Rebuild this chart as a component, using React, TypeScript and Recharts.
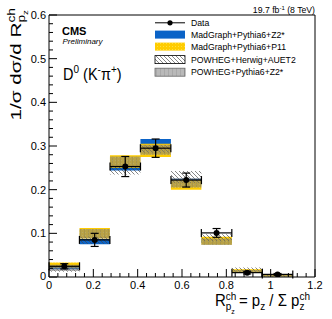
import React from 'react';
import { ComposedChart, Area, Scatter, ErrorBar, XAxis, YAxis, ReferenceArea } from 'recharts';

// bin edges of the R_pz histogram
const binEdges = [0, 0.1375, 0.275, 0.4125, 0.55, 0.6875, 0.825, 0.9625, 1.1];

// data points
const dataCenters = [0.069, 0.206, 0.344, 0.481, 0.619, 0.756, 0.894, 1.031];
const dataValues = [0.0245, 0.085, 0.253, 0.295, 0.222, 0.101, 0.01, 0.006];
const dataErrors = [0.006, 0.015, 0.023, 0.021, 0.016, 0.01, 0.003, 0.002];

// MC bands (low / high per bin)
const mgZ2Low = [0.018, 0.075, 0.244, 0.298, 0.21, 0.078, 0.011, 0.002];
const mgZ2High = [0.026, 0.087, 0.256, 0.316, 0.225, 0.088, 0.016, 0.005];
const mgP11Low = [0.022, 0.088, 0.25, 0.275, 0.2, 0.074, 0.01, 0.001];
const mgP11High = [0.033, 0.112, 0.279, 0.305, 0.222, 0.092, 0.018, 0.006];
const phHwLow = [0.012, 0.076, 0.235, 0.285, 0.215, 0.082, 0.012, 0.001];
const phHwHigh = [0.025, 0.092, 0.255, 0.302, 0.243, 0.098, 0.022, 0.005];
const phPyLow = [0.014, 0.088, 0.252, 0.28, 0.205, 0.073, 0.011, 0.001];
const phPyHigh = [0.028, 0.11, 0.276, 0.303, 0.226, 0.088, 0.016, 0.006];

// axis ticks
const xMajorTicks = [0, 0.2, 0.4, 0.6, 0.8, 1, 1.2];
const xTickLabels = ['0', '0.2', '0.4', '0.6', '0.8', '1', '1.2'];
const yMajorTicks = [0, 0.1, 0.2, 0.3, 0.4, 0.5, 0.6];
const yTickLabels = ['0', '0.1', '0.2', '0.3', '0.4', '0.5', '0.6'];
const xAllTicks = Array.from({ length: 31 }, (_, i) => Math.round(i * 4) / 100);
const yAllTicks = Array.from({ length: 31 }, (_, i) => Math.round(i * 2) / 100);

const legendNames = [
  'Data',
  'MadGraph+Pythia6+Z2*',
  'MadGraph+Pythia6+P11',
  'POWHEG+Herwig+AUET2',
  'POWHEG+Pythia6+Z2*',
];

// step-area rows at the bin edges; last edge repeats the last bin
const bandRows = binEdges.map((x, i) => {
  const j = Math.min(i, mgZ2Low.length - 1);
  return {
    x,
    mgZ2: [mgZ2Low[j], mgZ2High[j]],
    mgP11: [mgP11Low[j], mgP11High[j]],
    phHw: [phHwLow[j], phHwHigh[j]],
    phPy: [phPyLow[j], phPyHigh[j]],
  };
});

const pointRows = dataCenters.map((x, i) => ({
  x,
  y: dataValues[i],
  ey: dataErrors[i],
  ex: (binEdges[i + 1] - binEdges[i]) / 2,
}));

const FONT = '"Liberation Sans", Arial, Helvetica, sans-serif';

const findIdx = (list: number[], v: number) => list.findIndex((t) => Math.abs(t - v) < 1e-6);

const XTick = (props: any) => {
  const { x, y, payload } = props;
  const idx = findIdx(xMajorTicks, payload.value);
  const base = y - 3;
  return (
    <g>
      <line x1={x} x2={x} y1={base} y2={base - (idx >= 0 ? 8 : 4)} stroke="#000" strokeWidth={1} />
      {idx >= 0 && (
        <text x={x} y={y + 1} dy="0.71em" textAnchor="middle" fontSize={11} fontFamily={FONT} fill="#000">
          {xTickLabels[idx]}
        </text>
      )}
    </g>
  );
};

const YTick = (props: any) => {
  const { x, y, payload } = props;
  const idx = findIdx(yMajorTicks, payload.value);
  const base = x + 3;
  return (
    <g>
      <line x1={base} x2={base + (idx >= 0 ? 8 : 4)} y1={y} y2={y} stroke="#000" strokeWidth={1} />
      {idx >= 0 && (
        <text x={x} y={idx === 0 ? y - 1 : y} dy="0.355em" textAnchor="end" fontSize={11} fontFamily={FONT} fill="#000">
          {yTickLabels[idx]}
        </text>
      )}
    </g>
  );
};

const Patterns = ({ prefix }: { prefix: string }) => (
  <defs>
    <pattern id={prefix + 'hatch'} patternUnits="userSpaceOnUse" width="4" height="4">
      <path d="M-1,-1 L5,5 M-1,3 L1,5 M3,-1 L5,1" stroke="#444" strokeWidth="0.65" />
    </pattern>
    <pattern id={prefix + 'gray'} patternUnits="userSpaceOnUse" width="4" height="4">
      <rect width="4" height="4" fill="rgba(128,128,128,0.55)" />
      <path d="M0,0 V4" stroke="rgba(80,80,80,0.45)" strokeWidth="0.7" />
    </pattern>
    <pattern id={prefix + 'yellow'} patternUnits="userSpaceOnUse" width="3" height="3">
      <rect width="3" height="3" fill="#ffcc00" />
      <rect x="1" y="1" width="1" height="1" fill="#ffe040" />
    </pattern>
  </defs>
);

const Legend = () => {
  const rowY = [22.8, 34.6, 46.6, 59.6, 72.2];
  const fills = ['', '#0b63c7', 'url(#lgyellow)', 'url(#lghatch)', 'url(#lggray)'];
  const strokes = ['', 'none', 'none', '#000', '#666'];
  return (
    <g fontFamily={FONT}>
      {legendNames.map((name, i) => (
        <g key={name}>
          {i === 0 ? (
            <g>
              <line x1={155} x2={185} y1={rowY[i]} y2={rowY[i]} stroke="#000" strokeWidth={1} />
              <circle cx={170} cy={rowY[i]} r={2.6} fill="#000" />
            </g>
          ) : (
            <rect x={155} y={rowY[i] - 4} width={30} height={8} fill={fills[i]} stroke={strokes[i]} strokeWidth={0.8} />
          )}
          <text x={191} y={rowY[i] + 3.1} fontSize={8.7} fill="#000">
            {name}
          </text>
        </g>
      ))}
    </g>
  );
};

const Labels = () => (
  <g fontFamily={FONT} fill="#000">
    <text x={315} y={13} textAnchor="end" fontSize={8.7}>
      19.7 fb<tspan dy={-3.5} fontSize={6}>-1</tspan>
      <tspan dy={3.5}> (8 TeV)</tspan>
    </text>
    <text x={62} y={35} fontSize={11} fontWeight="bold">CMS</text>
    <text x={62.5} y={44} fontSize={8} fontStyle="italic">Preliminary</text>
    <text transform="translate(63,80) scale(1,1.15)" x={0} y={0} fontSize={14.5}>
      D<tspan dy={-6} fontSize={10}>0</tspan>
      <tspan dy={6}> (K</tspan>
      <tspan dy={-6} fontSize={10}>-</tspan>
      <tspan dy={6}>π</tspan>
      <tspan dy={-6} fontSize={10}>+</tspan>
      <tspan dy={6}>)</tspan>
    </text>
    <text transform="translate(21,8) rotate(-90) scale(1.38,1)" x={0} y={0} textAnchor="end" fontSize={15}>
      1/σ dσ/d R
      <tspan dy={-6} fontSize={10}>ch</tspan>
      <tspan dx={-10.6} dy={10} fontSize={10}>p</tspan>
      <tspan dy={3} fontSize={7}>z</tspan>
    </text>
    <text transform="translate(310,306) scale(1,1.1)" x={0} y={0} textAnchor="end" fontSize={15}>
      R
      <tspan dy={-5.5} fontSize={10}>ch</tspan>
      <tspan dx={-10.6} dy={9.5} fontSize={10}>p</tspan>
      <tspan dy={3} fontSize={7}>z</tspan>
      <tspan dy={-7}> = p</tspan>
      <tspan dy={4} fontSize={10}>z</tspan>
      <tspan dy={-4}> / Σ p</tspan>
      <tspan dy={-5.5} fontSize={10}>ch</tspan>
      <tspan dx={-10.6} dy={9.5} fontSize={10}>z</tspan>
    </text>
  </g>
);

export default function App() {
  return (
    <div style={{ position: 'absolute', left: 0, top: 0, width: 332, height: 319, background: '#fff' }}>
      <ComposedChart
        width={332}
        height={319}
        data={bandRows}
        margin={{ top: 15, right: 17, bottom: 22, left: 19 }}
      >
        <Patterns prefix="pl" />
        <Patterns prefix="lg" />
        <XAxis
          dataKey="x"
          type="number"
          domain={[0, 1.2]}
          ticks={xAllTicks}
          interval={0}
          tick={<XTick />}
          tickLine={false}
          axisLine={false}
          tickSize={0}
          tickMargin={3}
          height={20}
          allowDataOverflow
        />
        <YAxis
          type="number"
          domain={[0, 0.6]}
          ticks={yAllTicks}
          interval={0}
          tick={<YTick />}
          tickLine={false}
          axisLine={false}
          tickSize={0}
          tickMargin={3}
          width={30}
          allowDataOverflow
        />
        <Area dataKey="mgZ2" type="stepAfter" fill="#0b63c7" fillOpacity={1} stroke="none" isAnimationActive={false} />
        <Area dataKey="mgP11" type="stepAfter" fill="url(#plyellow)" fillOpacity={1} stroke="none" isAnimationActive={false} />
        <Area dataKey="phHw" type="stepAfter" fill="url(#plhatch)" fillOpacity={1} stroke="none" isAnimationActive={false} />
        <Area dataKey="phPy" type="stepAfter" fill="url(#plgray)" fillOpacity={1} stroke="none" isAnimationActive={false} />
        <Scatter
          data={pointRows}
          dataKey="y"
          isAnimationActive={false}
          shape={(p: any) => <circle cx={p.cx} cy={p.cy} r={3} fill="#000" />}
        >
          <ErrorBar dataKey="ey" direction="y" width={4} stroke="#000" strokeWidth={1.2} isAnimationActive={false} />
          <ErrorBar dataKey="ex" direction="x" width={4} stroke="#000" strokeWidth={1.2} isAnimationActive={false} />
        </Scatter>
        <ReferenceArea x1={0} x2={1.2} y1={0} y2={0.6} fill="none" stroke="#000" strokeWidth={1} ifOverflow="visible" />
        <Legend />
        <Labels />
      </ComposedChart>
    </div>
  );
}
